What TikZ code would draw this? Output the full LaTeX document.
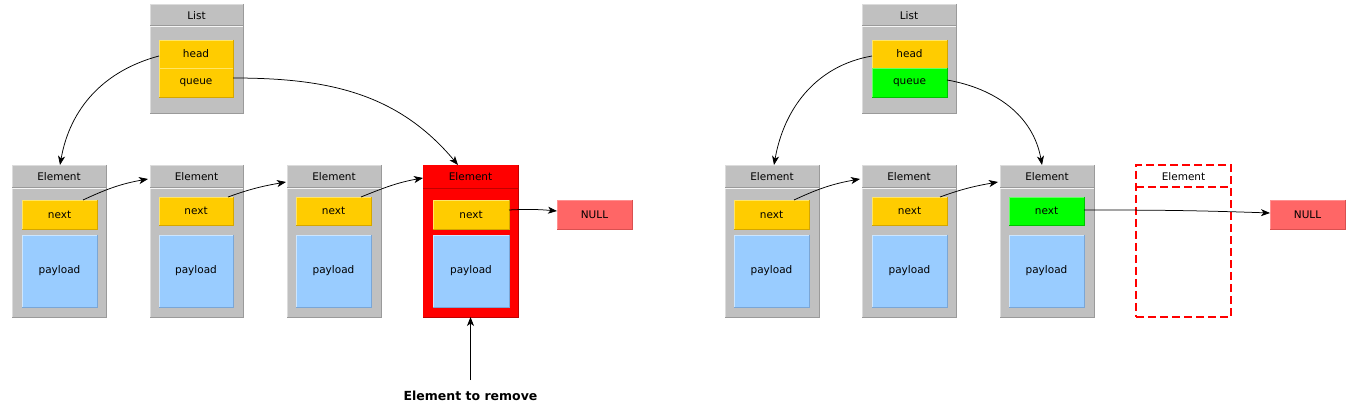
\documentclass[tikz,border=0pt]{standalone}
\usepackage{fontspec}
\setmainfont{DejaVu Sans}
\usetikzlibrary{arrows.meta}
\definecolor{elgray}{HTML}{C0C0C0}
\definecolor{ellight}{HTML}{DCDCDC}
\definecolor{eldark}{HTML}{9A9A9A}
\definecolor{yel}{HTML}{FFCC00}
\definecolor{yellight}{HTML}{FFE566}
\definecolor{yeldark}{HTML}{D4A600}
\definecolor{blu}{HTML}{99CCFF}
\definecolor{blulight}{HTML}{CCE6FF}
\definecolor{bludark}{HTML}{7AA6D6}
\definecolor{grn}{HTML}{00FF00}
\definecolor{grnlight}{HTML}{66FF66}
\definecolor{grndark}{HTML}{00C000}
\definecolor{nul}{HTML}{FF6666}
\definecolor{nullight}{HTML}{FF9090}
\definecolor{nuldark}{HTML}{D95050}
\definecolor{rd}{HTML}{FF0000}
\definecolor{rddark}{HTML}{C00000}
\newcommand\mybevel[3]{%
  \draw[#2,line width=0.8pt] (#1.south west) -- (#1.north west) -- (#1.north east);
  \draw[#3,line width=0.8pt] (#1.north east) -- (#1.south east) -- (#1.south west);}
\tikzset{
  bx/.style={rectangle, inner sep=0pt, outer sep=0pt, anchor=center},
  elbox/.style={bx, fill=elgray, minimum width=#1, minimum height=152pt},
  listbox/.style={bx, fill=elgray, minimum width=#1, minimum height=109pt},
  yelbox/.style={bx, fill=yel, minimum width=#1, minimum height=29pt},
  grnbox/.style={bx, fill=grn, minimum width=#1, minimum height=28pt},
  paybox/.style={bx, fill=blu, minimum width=#1, minimum height=72pt},
  nullbox/.style={bx, fill=nul, minimum width=75pt, minimum height=29pt},
  ttl/.style={bx},
  arr/.style={-{Stealth[length=9pt,width=7pt,inset=2.5pt]}, line width=0.75pt, black},
  sepl/.style={eldark, line width=0.8pt},
  seph/.style={white!92!gray, line width=0.8pt},
  rdash/.style={rd, dash pattern=on 8pt off 4pt, line width=2pt},
}
\begin{document}
\begin{tikzpicture}[x=1pt,y=1pt, every node/.append style={font=\fontsize{10.5}{12}\selectfont}]
\useasboundingbox (0,0) rectangle (1367,415);
\fill[white] (0,0) rectangle (1367,415);

% ---------------- LEFT ----------------
\node[listbox=93pt] (llist) at (196.5,356.5) {};
\mybevel{llist}{ellight}{eldark}
\node[ttl] (llistt) at (196.5,399.5) {List};
\draw[sepl] (llist.west |- 0,389.5) -- (llist.east |- 0,389.5);
\draw[seph] (llist.west |- 0,388.5) -- (llist.east |- 0,388.5);
\node[yelbox=74pt, minimum height=28pt] (lhead) at (196,361) {head};
\mybevel{lhead}{yellight}{yeldark}
\node[yelbox=74pt] (lqueue) at (196,332.5) {queue};
\mybevel{lqueue}{yellight}{yeldark}

% Element 1
\node[elbox=94pt] (le1) at (59,174) {};
\mybevel{le1}{ellight}{eldark}
\node[ttl] (le1t) at (59,238.5) {Element};
\draw[sepl] (le1.west |- 0,227.5) -- (le1.east |- 0,227.5);
\draw[seph] (le1.west |- 0,226.5) -- (le1.east |- 0,226.5);
\node[yelbox=75pt] (ln1) at (59.5,200.5) {next};
\mybevel{ln1}{yellight}{yeldark}
\node[paybox=75pt] (lp1) at (59.5,144) {payload};
\mybevel{lp1}{blulight}{bludark}

% Element 2
\node[elbox=93pt] (le2) at (196.5,174) {};
\mybevel{le2}{ellight}{eldark}
\node[ttl] (le2t) at (196.5,238.5) {Element};
\draw[sepl] (le2.west |- 0,227.5) -- (le2.east |- 0,227.5);
\draw[seph] (le2.west |- 0,226.5) -- (le2.east |- 0,226.5);
\node[yelbox=74pt, minimum height=28pt] (ln2) at (196,204) {next};
\mybevel{ln2}{yellight}{yeldark}
\node[paybox=74pt] (lp2) at (196,144) {payload};
\mybevel{lp2}{blulight}{bludark}

% Element 3
\node[elbox=94pt] (le3) at (334,174) {};
\mybevel{le3}{ellight}{eldark}
\node[ttl] (le3t) at (334,238.5) {Element};
\draw[sepl] (le3.west |- 0,227.5) -- (le3.east |- 0,227.5);
\draw[seph] (le3.west |- 0,226.5) -- (le3.east |- 0,226.5);
\node[yelbox=75pt, minimum height=28pt] (ln3) at (333.5,204) {next};
\mybevel{ln3}{yellight}{yeldark}
\node[paybox=75pt] (lp3) at (333.5,144) {payload};
\mybevel{lp3}{blulight}{bludark}

% Element 4 (red)
\node[elbox=95pt, fill=rd] (le4) at (470.5,174) {};
\mybevel{le4}{rd}{rddark}
\node[ttl] (le4t) at (470.5,238.5) {Element};
\draw[rddark, line width=0.8pt] (le4.west |- 0,227) -- (le4.east |- 0,227);
\node[yelbox=76pt] (ln4) at (471,200.5) {next};
\mybevel{ln4}{yellight}{yeldark}
\node[paybox=76pt] (lp4) at (471,144) {payload};
\mybevel{lp4}{blulight}{bludark}

% NULL
\node[nullbox] (lnull) at (594.5,200.5) {NULL};
\mybevel{lnull}{nullight}{nuldark}

% Element to remove
\node[bx, font=\fontsize{12.5}{14}\selectfont\bfseries] (remt) at (470.5,19) {Element to remove};
\coordinate (remstart) at (470.5,35);

% arrows left
\draw[arr] ([yshift=-2pt]lhead.west) to[out=195,in=80] ([xshift=1pt]le1.north);
\draw[arr] ([yshift=4.5pt]lqueue.east) to[out=0,in=130] ([xshift=-12.5pt]le4.north);
\draw[arr] ([xshift=23.5pt]ln1.north) to[out=25,in=190] ([xshift=-2pt,yshift=62pt]le2.west);
\draw[arr] ([xshift=32pt]ln2.north) to[out=20,in=190] ([xshift=-1pt,yshift=59pt]le3.west);
\draw[arr] ([xshift=27.5pt]ln3.north) to[out=22,in=190] ([yshift=63pt]le4.west);
\draw[arr] ([yshift=4.5pt]ln4.east) to[out=3,in=175] ([yshift=3.5pt]lnull.west);
\draw[arr] (remstart) -- (le4.south);

% ---------------- RIGHT ----------------
\node[listbox=94pt] (rlist) at (909,356.5) {};
\mybevel{rlist}{ellight}{eldark}
\node[ttl] (rlistt) at (909,399.5) {List};
\draw[sepl] (rlist.west |- 0,389.5) -- (rlist.east |- 0,389.5);
\draw[seph] (rlist.west |- 0,388.5) -- (rlist.east |- 0,388.5);
\node[yelbox=75pt, minimum height=28pt] (rhead) at (909.5,361) {head};
\mybevel{rhead}{yellight}{yeldark}
\node[grnbox=75pt, minimum height=29pt] (rqueue) at (909.5,332.5) {queue};
\mybevel{rqueue}{grnlight}{grndark}

% R1
\node[elbox=94pt] (re1) at (772,174) {};
\mybevel{re1}{ellight}{eldark}
\node[ttl] (re1t) at (772,238.5) {Element};
\draw[sepl] (re1.west |- 0,227.5) -- (re1.east |- 0,227.5);
\draw[seph] (re1.west |- 0,226.5) -- (re1.east |- 0,226.5);
\node[yelbox=75pt] (rn1) at (771.5,200.5) {next};
\mybevel{rn1}{yellight}{yeldark}
\node[paybox=75pt] (rp1) at (771.5,144) {payload};
\mybevel{rp1}{blulight}{bludark}

% R2
\node[elbox=94pt] (re2) at (909,174) {};
\mybevel{re2}{ellight}{eldark}
\node[ttl] (re2t) at (909,238.5) {Element};
\draw[sepl] (re2.west |- 0,227.5) -- (re2.east |- 0,227.5);
\draw[seph] (re2.west |- 0,226.5) -- (re2.east |- 0,226.5);
\node[yelbox=75pt, minimum height=28pt] (rn2) at (909.5,204) {next};
\mybevel{rn2}{yellight}{yeldark}
\node[paybox=75pt] (rp2) at (909.5,144) {payload};
\mybevel{rp2}{blulight}{bludark}

% R3
\node[elbox=94pt] (re3) at (1047,174) {};
\mybevel{re3}{ellight}{eldark}
\node[ttl] (re3t) at (1047,238.5) {Element};
\draw[sepl] (re3.west |- 0,227.5) -- (re3.east |- 0,227.5);
\draw[seph] (re3.west |- 0,226.5) -- (re3.east |- 0,226.5);
\node[grnbox=75pt] (rn3) at (1046.5,204) {next};
\mybevel{rn3}{grnlight}{grndark}
\node[paybox=75pt] (rp3) at (1046.5,144) {payload};
\mybevel{rp3}{blulight}{bludark}

% removed element (dashed)
\node[bx, draw, rdash, minimum width=95pt, minimum height=152pt] (re4) at (1183.5,174) {};
\node[ttl] (re4t) at (1183.5,238.5) {Element};
\draw[rdash] (re4.west |- 0,228) -- (re4.east |- 0,228);

% NULL right
\node[nullbox] (rnull) at (1307.5,200.5) {NULL};
\mybevel{rnull}{nullight}{nuldark}

% arrows right
\draw[arr] ([yshift=-2pt]rhead.west) to[out=190,in=80] ([xshift=2pt]re1.north);
\draw[arr] ([yshift=2.5pt]rqueue.east) to[out=350,in=100] ([xshift=-5pt]re3.north);
\draw[arr] ([xshift=22.5pt]rn1.north) to[out=25,in=190] ([xshift=-2pt,yshift=62pt]re2.west);
\draw[arr] ([xshift=30.5pt]rn2.north) to[out=20,in=190] ([xshift=-2pt,yshift=59pt]re3.west);
\draw[arr] ([yshift=1pt]rn3.east) to[out=0,in=178] ([yshift=1.5pt]rnull.west);
\end{tikzpicture}
\end{document}
